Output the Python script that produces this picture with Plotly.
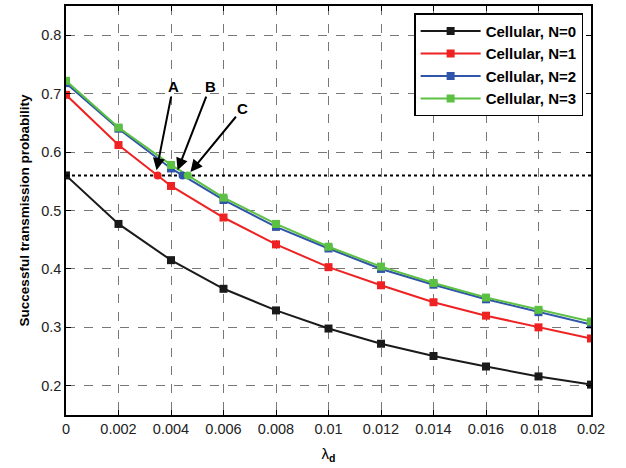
import plotly.graph_objects as go

x = [0, 0.002, 0.004, 0.006, 0.008, 0.01, 0.012, 0.014, 0.016, 0.018, 0.02]
n0 = [0.560, 0.477, 0.415, 0.366, 0.329, 0.298, 0.272, 0.251, 0.233, 0.216, 0.202]
n1 = [0.698, 0.612, 0.542, 0.488, 0.442, 0.403, 0.372, 0.343, 0.320, 0.300, 0.281]
n2 = [0.718, 0.640, 0.572, 0.518, 0.472, 0.435, 0.400, 0.373, 0.348, 0.326, 0.305]
n3 = [0.722, 0.642, 0.578, 0.522, 0.477, 0.438, 0.404, 0.376, 0.351, 0.330, 0.310]
names = ["Cellular, N=0", "Cellular, N=1", "Cellular, N=2", "Cellular, N=3"]
colors = ["#1a1a1a", "#ee2222", "#2f55a8", "#5cc043"]

threshold = 0.56
cross_x = [0.00349, 0.00444, 0.00464]
cross_colors = ["#ee2222", "#2f55a8", "#5cc043"]

labels = ["A", "B", "C"]
label_x = [0.00408, 0.00549, 0.00674]
label_y = [0.712, 0.712, 0.675]
head_x = [0.00345, 0.00425, 0.00474]
head_y = [0.569, 0.569, 0.566]

fig = go.Figure()
for ys, nm, c in zip([n0, n1, n2, n3], names, colors):
    fig.add_trace(go.Scatter(x=x, y=ys, name=nm, mode="lines+markers",
                             line=dict(color=c, width=2),
                             marker=dict(symbol="square", size=8, color=c)))

fig.add_trace(go.Scatter(x=[x[0], x[-1]], y=[threshold, threshold], mode="lines",
                         line=dict(color="black", width=2, dash="dot"), showlegend=False))
fig.add_trace(go.Scatter(x=cross_x, y=[threshold] * len(cross_x), mode="markers",
                         marker=dict(symbol="circle", size=8, color=cross_colors),
                         showlegend=False))

for lb, lx, ly, hx, hy in zip(labels, label_x, label_y, head_x, head_y):
    fig.add_annotation(x=hx, y=hy, ax=lx, ay=ly, axref="x", ayref="y", xref="x", yref="y",
                       text="<b>%s</b>" % lb, showarrow=True, arrowhead=2, arrowsize=1.2,
                       arrowwidth=2, arrowcolor="black", standoff=0,
                       font=dict(size=15, color="black"))

axis_common = dict(showline=True, linecolor="black", linewidth=1.5, mirror="ticks",
                   ticks="inside", ticklen=5, tickcolor="black",
                   showgrid=True, gridcolor="#777777", griddash="dash", gridwidth=1,
                   zeroline=False, tickfont=dict(size=14.5, color="#222222", weight="normal"))

fig.update_xaxes(range=[0, 0.02], tickvals=x,
                 ticktext=["0", "0.002", "0.004", "0.006", "0.008", "0.01", "0.012",
                           "0.014", "0.016", "0.018", "0.02"],
                 title=dict(text="λ<sub><b>d</b></sub>", font=dict(size=15, color="black"), standoff=12),
                 **axis_common)
fig.update_yaxes(range=[0.15, 0.85], tickvals=[0.2, 0.3, 0.4, 0.5, 0.6, 0.7, 0.8],
                 ticktext=["0.2", "0.3", "0.4", "0.5", "0.6", "0.7", "0.8"],
                 title=dict(text="<b>Successful transmission probability</b>",
                            font=dict(size=13.5, color="black"), standoff=8),
                 **axis_common)

fig.update_layout(
    width=626, height=468,
    margin=dict(l=66, r=35, t=4, b=53),
    paper_bgcolor="white", plot_bgcolor="white",
    font=dict(family="Liberation Sans, Arial, sans-serif", color="black"),
    legend=dict(x=0.985, y=0.982, xanchor="right", yanchor="top",
                bgcolor="white", bordercolor="black", borderwidth=1.5,
                font=dict(size=15, color="black", weight="bold"),
                itemwidth=60, tracegroupgap=0),
)

fig.write_html("out.html")
